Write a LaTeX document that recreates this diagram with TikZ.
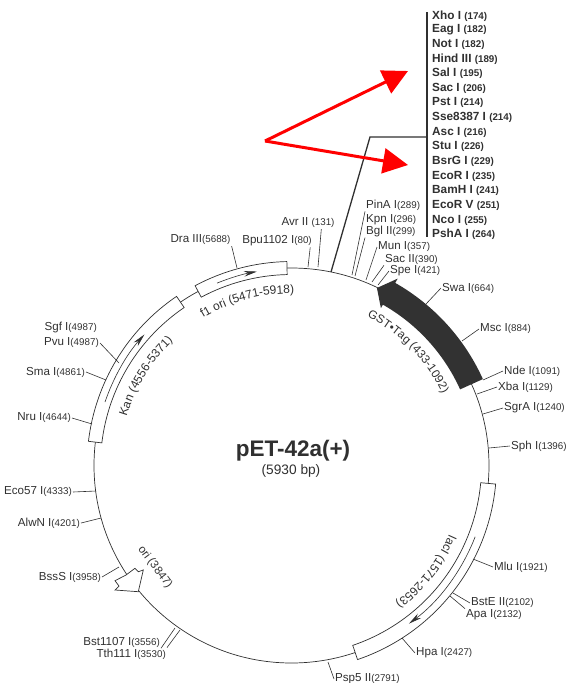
\documentclass[tikz,border=0pt]{standalone}
\usepackage{fontspec}
\setmainfont{Liberation Sans}
\usepackage{xcolor}
\usetikzlibrary{arrows.meta, calc, decorations.text}
\definecolor{ink}{RGB}{48,48,48}
\definecolor{band}{RGB}{50,50,50}
\definecolor{redmark}{RGB}{255,0,0}
\newcommand{\Nb}[1]{{\fontsize{9.8}{10}\selectfont #1}}
\newcommand{\Band}[4]{\draw[gene] ($(rc)+(#1:#3pt)$) arc[start angle=#1, end angle=#2, radius=#3pt]
  -- ($(rc)+(#2:#4pt)$) arc[start angle=#2, end angle=#1, radius=#4pt] -- cycle;}
\newcommand{\Run}[2]{\draw[run] ($(rc)+(#1:197pt)$) arc[start angle=#1, end angle=#2, radius=197pt];}

\begin{document}
\begin{tikzpicture}[
    x=1pt, y=-1pt,
    site/.style={font=\fontsize{11.6}{12}\selectfont, text=ink, inner sep=1pt},
    enz/.style={font=\fontsize{11.8}{12}\selectfont\bfseries, text=ink, inner sep=1pt, anchor=west},
    tick/.style={draw=ink, line width=0.6pt},
    bar/.style={draw=ink, line width=1.3pt},
    gene/.style={draw=ink, fill=white, line width=0.7pt},
    run/.style={draw=ink, line width=0.6pt, -{Stealth[length=13pt, width=5.5pt]}},
    redarr/.style={draw=redmark, line width=3pt, -{Triangle[length=25pt, width=25pt]}},
    curved/.style={decorate, decoration={text along path, text align=center}},
    title/.style={font=\fontsize{22.5}{24}\selectfont\bfseries, text=ink, inner sep=0pt}
  ]
  \useasboundingbox (0,0) rectangle (568,683);
  \coordinate (rc) at (291.5,465.5);
  \draw[draw=ink, line width=0.7pt] (rc) circle[radius=197.5pt];

  % features
  \Band{118.2}{91.3}{191}{204}
  \Band{173.2}{124.2}{191}{204.5}
  \Band{-5.2}{-71.2}{190}{205}
  \Run{112.2}{100.1}
  \Run{161.2}{138.3}
  \Run{-21.2}{-53.4}
  \fill[band] ($(rc)+(64.3:197pt)$) -- ($(rc)+(60.4:215pt)$) -- ($(rc)+(60.4:210pt)$)
    arc[start angle=60.4, end angle=24.3, radius=210pt] -- ($(rc)+(24.3:185pt)$)
    arc[start angle=24.3, end angle=60.4, radius=185pt] -- ($(rc)+(60.4:181pt)$) -- cycle;
  \draw[gene] (143.3,570) -- (138.3,591.7) -- (115,590) -- (119,586) -- (115,580.7)
    -- (126,575) -- (135,568.3) -- (138.3,571.7) -- cycle;

  % feature names
  \path[curved, decoration={text={|\fontsize{12}{12}\selectfont\color{ink}|f1 ori (5471-5918)}}]
    ($(rc)+(120.5:172pt)$) arc[start angle=120.5, end angle=89.5, radius=172pt];
  \path[curved, decoration={text={|\fontsize{12}{12}\selectfont\color{ink}|Kan (4556-5371)}}]
    ($(rc)+(163.5:172pt)$) arc[start angle=163.5, end angle=133.5, radius=172pt];
  \path[curved, decoration={text={|\fontsize{11.8}{12}\selectfont\color{ink}|GST•Tag (433-1092)}}]
    ($(rc)+(64:167pt)$) arc[start angle=64, end angle=24.5, radius=167pt];
  \path[curved, decoration={text={|\fontsize{12}{12}\selectfont\color{ink}|lacI (1571-2653)}}]
    ($(rc)+(-23.5:172pt)$) arc[start angle=-23.5, end angle=-53, radius=172pt];
  \node[site, rotate=-53, font=\fontsize{11.5}{12}\selectfont] (ori) at (155,567) {ori (3847)};

  \node[title] (pet) at (293,451) {pET-42a(+)};
  \node[site, font=\fontsize{13.7}{15}\selectfont, inner sep=0pt] (size) at (291,471) {(5930 bp)};

  % list at the top
  \def\lx{431}
  \node[enz] (xho) at (\lx,16) {Xho I \Nb{(174)}};
  \node[enz] (eag) at (\lx,30) {Eag I \Nb{(182)}};
  \node[enz] (not) at (\lx,44) {Not I \Nb{(182)}};
  \node[enz] (hind) at (\lx,59) {Hind III \Nb{(189)}};
  \node[enz] (sal) at (\lx,73) {Sal I \Nb{(195)}};
  \node[enz] (sacone) at (\lx,88) {Sac I \Nb{(206)}};
  \node[enz] (pst) at (\lx,102) {Pst I \Nb{(214)}};
  \node[enz] (sse) at (\lx,117) {Sse8387 I \Nb{(214)}};
  \node[enz] (asc) at (\lx,132) {Asc I \Nb{(216)}};
  \node[enz] (stu) at (\lx,146) {Stu I \Nb{(226)}};
  \node[enz] (bsrg) at (\lx,161) {BsrG I \Nb{(229)}};
  \node[enz] (ecori) at (\lx,176) {EcoR I \Nb{(235)}};
  \node[enz] (bamh) at (\lx,190) {BamH I \Nb{(241)}};
  \node[enz] (ecorv) at (\lx,205) {EcoR V \Nb{(251)}};
  \node[enz] (nco) at (\lx,220) {Nco I \Nb{(255)}};
  \node[enz] (psha) at (\lx,234) {PshA I \Nb{(264)}};

  \coordinate (bartop) at (427,12);
  \coordinate (barbot) at (427,237);
  \coordinate (barmid) at (427,137);
  \coordinate (barknee) at (370,137);
  \coordinate (barfoot) at (331,272);
  \draw[bar] (bartop) -- (barbot);
  \draw[bar] (barmid) -- (barknee) -- (barfoot);

  % red arrows
  \coordinate (redroot) at (265,141);
  \coordinate (redtipa) at (408,71);
  \coordinate (redtipb) at (408,165);
  \draw[redarr] (redroot) -- (redtipa);
  \draw[redarr] (redroot) -- (redtipb);

  % sites, clockwise from the top
  \node[site] (avr) at (308,223) {Avr II \Nb{(131)}};
  \node[site] (bpu) at (277,241) {Bpu1102 I\Nb{(80)}};
  \node[site] (dra) at (200.5,240) {Dra III\Nb{(5688)}};
  \node[site, anchor=west] (pina) at (365,205) {PinA I\Nb{(289)}};
  \node[site, anchor=west] (kpn) at (365,220) {Kpn I\Nb{(296)}};
  \node[site, anchor=west] (bgl) at (365,231) {Bgl II\Nb{(299)}};
  \node[site, anchor=west] (mun) at (377,247) {Mun I\Nb{(357)}};
  \node[site, anchor=west] (sactwo) at (384,259) {Sac II\Nb{(390)}};
  \node[site, anchor=west] (spe) at (389,271) {Spe I\Nb{(421)}};
  \node[site, anchor=west] (swa) at (441,288) {Swa I\Nb{(664)}};
  \node[site, anchor=west] (msc) at (479,329) {Msc I\Nb{(884)}};
  \node[site, anchor=west] (nde) at (503,371) {Nde I\Nb{(1091)}};
  \node[site, anchor=west] (xba) at (497,387) {Xba I\Nb{(1129)}};
  \node[site, anchor=west] (sgra) at (503,408) {SgrA I\Nb{(1240)}};
  \node[site, anchor=west] (sph) at (510,446) {Sph I\Nb{(1396)}};
  \node[site, anchor=west] (mlu) at (493,567) {Mlu I\Nb{(1921)}};
  \node[site, anchor=west] (bste) at (470,603) {BstE II\Nb{(2102)}};
  \node[site, anchor=west] (apa) at (465,615) {Apa I\Nb{(2132)}};
  \node[site, anchor=west] (hpa) at (415,653) {Hpa I\Nb{(2427)}};
  \node[site, anchor=west] (psp) at (334,679) {Psp5 II\Nb{(2791)}};
  \node[site, anchor=east] (tth) at (167,654) {Tth111 I\Nb{(3530)}};
  \node[site, anchor=east] (bst) at (161,642) {Bst1107 I\Nb{(3556)}};
  \node[site, anchor=east] (bss) at (102,577) {BssS I\Nb{(3958)}};
  \node[site, anchor=east] (alwn) at (81,523) {AlwN I\Nb{(4201)}};
  \node[site, anchor=east] (eco) at (73,492) {Eco57 I\Nb{(4333)}};
  \node[site, anchor=east] (nru) at (72,418) {Nru I\Nb{(4644)}};
  \node[site, anchor=east] (sma) at (86,372) {Sma I\Nb{(4861)}};
  \node[site, anchor=east] (pvu) at (100,343) {Pvu I\Nb{(4987)}};
  \node[site, anchor=east] (sgf) at (98,328) {Sgf I\Nb{(4987)}};

  \coordinate (avrt) at (318,267);
  \coordinate (bput) at (308,267);
  \coordinate (drat) at (237,268);
  \coordinate (pinat) at (352,275);
  \coordinate (bglt) at (355,276);
  \coordinate (munt) at (366,280);
  \coordinate (sactwot) at (372,282);
  \coordinate (spet) at (378,285);
  \coordinate (swat) at (426,304);
  \coordinate (msct) at (462,341);
  \coordinate (ndet) at (483,380);
  \coordinate (xbat) at (477,394);
  \coordinate (sgrat) at (483,414);
  \coordinate (spht) at (489,448);
  \coordinate (mlut) at (473,559);
  \coordinate (bstet) at (453,593);
  \coordinate (apat) at (450,596);
  \coordinate (hpat) at (402,638);
  \coordinate (pspt) at (328,662);
  \coordinate (ttht) at (180,630);
  \coordinate (bstt) at (175,628);
  \coordinate (bsst) at (119,567);
  \coordinate (alwnt) at (101,518);
  \coordinate (ecot) at (96,491);
  \coordinate (nrut) at (92,424);
  \coordinate (smat) at (106,380);
  \coordinate (pvut) at (119,363);

  \draw[tick] (avrt) -- (avr.-25);
  \draw[tick] (bput) -- (bpu.-11);
  \draw[tick] (drat) -- (dra.south east);
  \draw[tick] (pinat) -- (pina.south west);
  \draw[tick] (bglt) -- (bgl.south west);
  \draw[tick] (munt) -- (mun.west);
  \draw[tick] (sactwot) -- (sactwo.south west);
  \draw[tick] (spet) -- (spe.west);
  \draw[tick] (swat) -- (swa.west);
  \draw[tick] (msct) -- (msc.west);
  \draw[tick] (ndet) -- (nde.west);
  \draw[tick] (xbat) -- (xba.west);
  \draw[tick] (sgrat) -- (sgra.west);
  \draw[tick] (spht) -- (sph.west);
  \draw[tick] (mlut) -- (mlu.west);
  \draw[tick] (bstet) -- (bste.west);
  \draw[tick] (apat) -- (apa.north west);
  \draw[tick] (hpat) -- (hpa.west);
  \draw[tick] (pspt) -- (psp.west);
  \draw[tick] (ttht) -- (tth.north east);
  \draw[tick] (bstt) -- (bst.south east);
  \draw[tick] (bsst) -- (bss.east);
  \draw[tick] (alwnt) -- (alwn.east);
  \draw[tick] (ecot) -- (eco.east);
  \draw[tick] (nrut) -- (nru.east);
  \draw[tick] (smat) -- (sma.east);
  \draw[tick] (pvut) -- (pvu.east);
\end{tikzpicture}
\end{document}
